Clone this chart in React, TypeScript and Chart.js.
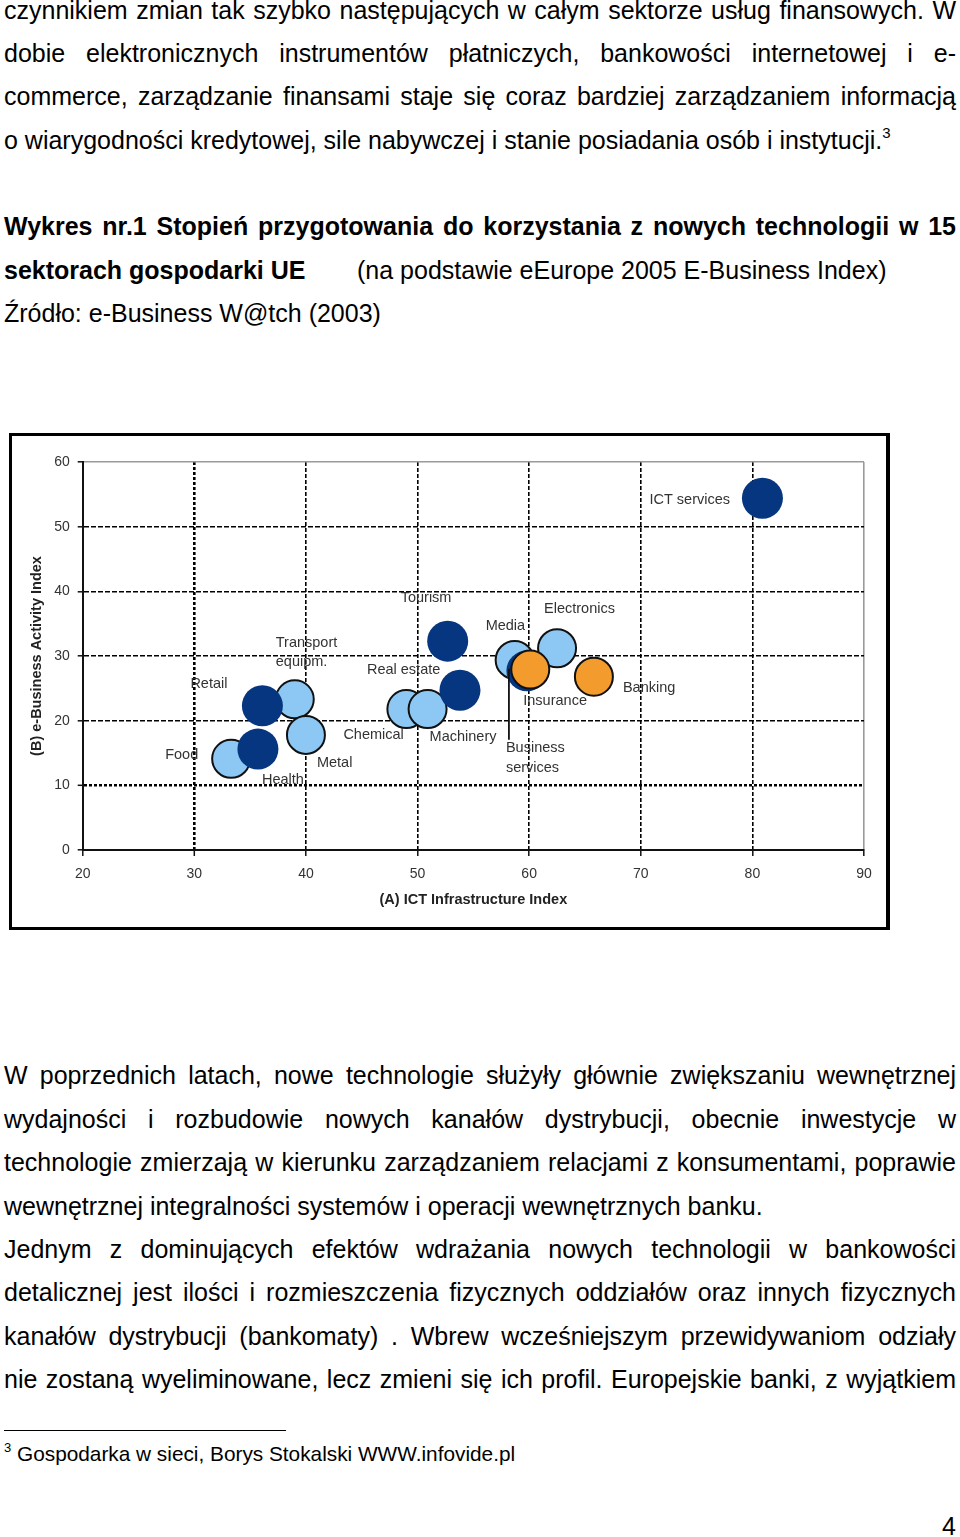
import React, { useEffect, useRef } from "react";
import { Chart, registerables } from "chart.js";

Chart.register(...registerables);

const FONT = "'Liberation Sans', Arial, Helvetica, sans-serif";

// ---------- chart data ----------
const lightSectors = ["Food", "Transport equipm.", "Metal", "Chemical", "Machinery", "Media", "Electronics"];
const lightIct = [33.3, 39.0, 40.0, 49.0, 50.9, 58.7, 62.5];
const lightEbiz = [14.1, 23.3, 17.8, 21.8, 21.8, 29.4, 31.2];

const darkSectors = ["Retail", "Health", "Tourism", "Real estate", "Business services", "ICT services"];
const darkIct = [36.1, 35.7, 52.7, 53.8, 59.8, 80.9];
const darkEbiz = [22.3, 15.6, 32.3, 24.7, 27.7, 54.4];

const orangeSectors = ["Insurance", "Banking"];
const orangeIct = [60.1, 65.8];
const orangeEbiz = [27.9, 26.8];

const xTitle = "(A) ICT Infrastructure Index";
const yTitle = "(B) e-Business Activity Index";
const xMin = 20, xMax = 90, yMin = 0, yMax = 60, tickStep = 10;

// ---------- label layout (pixel offsets from bubble centre) ----------
const labelLayout: Record<string, { lines: string[]; dx: number; dy: number; gap?: number; leader?: [number, number, number] }> = {
  "Food": { lines: ["Food"], dx: -66, dy: -4 },
  "Transport equipm.": { lines: ["Transport", "equipm."], dx: -19, dy: -56, gap: 19 },
  "Metal": { lines: ["Metal"], dx: 11, dy: 28 },
  "Chemical": { lines: ["Chemical"], dx: -63, dy: 26 },
  "Machinery": { lines: ["Machinery"], dx: 2, dy: 28 },
  "Media": { lines: ["Media"], dx: -29, dy: -34 },
  "Electronics": { lines: ["Electronics"], dx: -13, dy: -39 },
  "Retail": { lines: ["Retail"], dx: -72, dy: -22 },
  "Health": { lines: ["Health"], dx: 4, dy: 31 },
  "Tourism": { lines: ["Tourism"], dx: -47, dy: -43 },
  "Real estate": { lines: ["Real estate"], dx: -93, dy: -20 },
  "Business services": { lines: ["Business", "services"], dx: -21, dy: 77, gap: 20, leader: [-18, -2, 69] },
  "ICT services": { lines: ["ICT services"], dx: -113, dy: 2 },
  "Insurance": { lines: ["Insurance"], dx: -7, dy: 31 },
  "Banking": { lines: ["Banking"], dx: 29, dy: 11 },
};

// ---------- page text ----------
const topLines = [
  "czynnikiem zmian tak szybko następujących w całym sektorze usług finansowych. W",
  "dobie elektronicznych instrumentów płatniczych, bankowości internetowej i e-",
  "commerce, zarządzanie finansami staje się coraz bardziej zarządzaniem informacją",
];
const topLast = "o wiarygodności kredytowej, sile nabywczej i stanie posiadania osób i instytucji.";
const headLine1 = "Wykres nr.1 Stopień przygotowania do korzystania z nowych technologii w 15";
const headLine2Bold = "sektorach gospodarki UE";
const headLine2Rest = "(na podstawie eEurope 2005 E-Business Index)";
const sourceLine = "Źródło: e-Business W@tch (2003)";
const bottomLines: [string, boolean][] = [
  ["W poprzednich latach, nowe technologie służyły głównie zwiększaniu wewnętrznej", true],
  ["wydajności i rozbudowie nowych kanałów dystrybucji, obecnie inwestycje w", true],
  ["technologie zmierzają w kierunku zarządzaniem relacjami z konsumentami, poprawie", true],
  ["wewnętrznej integralności systemów i operacji wewnętrznych banku.", false],
  ["Jednym z dominujących efektów wdrażania nowych technologii w bankowości", true],
  ["detalicznej jest ilości i rozmieszczenia fizycznych oddziałów oraz innych fizycznych", true],
  ["kanałów dystrybucji (bankomaty) . Wbrew wcześniejszym przewidywaniom odziały", true],
  ["nie zostaną wyeliminowane, lecz zmieni się ich profil. Europejskie banki, z wyjątkiem", true],
];
const footnoteText = "Gospodarka w sieci, Borys Stokalski WWW.infovide.pl";

function Txt(props: { x: number; baseline: number; size: number; bold?: boolean; width?: number; justify?: boolean; children: any }) {
  const { x, baseline, size, bold, width, justify, children } = props;
  const lh = size * 1.2;
  const top = baseline - (lh - size * 1.117) / 2 - size * 0.905;
  return (
    <div
      style={{
        position: "absolute",
        left: x,
        top,
        width: width,
        height: lh,
        lineHeight: lh + "px",
        fontSize: size,
        fontFamily: FONT,
        fontWeight: bold ? "bold" : "normal",
        whiteSpace: "nowrap",
        textAlign: justify ? "justify" : "left",
        textAlignLast: justify ? "justify" : "left",
        color: "#000",
      } as any}
    >
      {children}
    </div>
  );
}

const labelPlugin = {
  id: "sectorLabels",
  afterDatasetsDraw(chart: any) {
    const ctx = chart.ctx;
    ctx.save();
    ctx.font = `14.5px ${FONT}`;
    ctx.fillStyle = "#333";
    ctx.textBaseline = "middle";
    ctx.textAlign = "left";
    chart.data.datasets.forEach((ds: any, di: number) => {
      const meta = chart.getDatasetMeta(di);
      ds.sectors.forEach((name: string, i: number) => {
        const el = meta.data[i];
        const lay = labelLayout[name];
        if (!el || !lay) return;
        lay.lines.forEach((t, k) => {
          ctx.fillText(t, el.x + lay.dx, el.y + lay.dy + k * (lay.gap || 0));
        });
        if (lay.leader) {
          const [lx, y1, y2] = lay.leader;
          ctx.save();
          ctx.strokeStyle = "#111";
          ctx.lineWidth = 1.8;
          ctx.beginPath();
          ctx.moveTo(el.x + lx, el.y + y1);
          ctx.lineTo(el.x + lx, el.y + y2);
          ctx.stroke();
          ctx.restore();
        }
      });
    });
    ctx.restore();
  },
};

function BubbleChart() {
  const ref = useRef<HTMLCanvasElement>(null);
  useEffect(() => {
    if (!ref.current) return;
    const mk = (xs: number[], ys: number[], r: number) => xs.map((x, i) => ({ x, y: ys[i], r }));
    const chart = new Chart(ref.current, {
      type: "bubble",
      data: {
        datasets: [
          {
            label: "orange",
            sectors: orangeSectors,
            data: mk(orangeIct, orangeEbiz, 19),
            backgroundColor: "#F39C2D",
            borderColor: "#111",
            borderWidth: 2,
          } as any,
          {
            label: "dark",
            sectors: darkSectors,
            data: mk(darkIct, darkEbiz, 20.5),
            backgroundColor: "#06367F",
            borderColor: "#06367F",
            borderWidth: 0,
          } as any,
          {
            label: "light",
            sectors: lightSectors,
            data: mk(lightIct, lightEbiz, 19),
            backgroundColor: "#8CC8F3",
            borderColor: "#111",
            borderWidth: 2,
          } as any,
        ],
      },
      options: {
        responsive: false,
        animation: false,
        devicePixelRatio: 1,
        events: [],
        layout: { padding: { top: 26, right: 22, left: 0, bottom: 0 } },
        plugins: { legend: { display: false }, tooltip: { enabled: false } },
        scales: {
          x: {
            type: "linear",
            min: xMin,
            max: xMax,
            afterFit: (s: any) => { s.height = 76; },
            ticks: { stepSize: tickStep, color: "#333", font: { size: 14, family: FONT }, padding: 10 },
            grid: {
              color: (c: any) => (c.tick && c.tick.value === xMax ? "#9a9a9a" : "#000"),
              lineWidth: (c: any) => (c.tick && c.tick.value === 30 ? 2.6 : 1.6),
              tickColor: "#111",
              tickWidth: 1.5,
              tickLength: 6,
            },
            border: {
              color: "#111",
              width: 2,
              dash: (c: any) => {
                if (!c.tick) return [];
                const v = c.tick.value;
                if (v === xMin || v === xMax) return [];
                return v === 30 ? [3, 2] : [4, 2];
              },
            },
            title: { display: true, text: xTitle, color: "#222", font: { size: 14.5, weight: "bold", family: FONT }, padding: { top: 0, bottom: 17 } },
          },
          y: {
            type: "linear",
            min: yMin,
            max: yMax,
            afterFit: (s: any) => { s.width = 70.7; },
            ticks: { stepSize: tickStep, color: "#333", font: { size: 14, family: FONT }, padding: 8 },
            grid: {
              color: (c: any) => (c.tick && c.tick.value === yMax ? "#9a9a9a" : "#000"),
              lineWidth: (c: any) => (c.tick && c.tick.value === 10 ? 2.6 : 1.6),
              tickColor: "#111",
              tickWidth: 1.5,
              tickLength: 5,
            },
            border: {
              color: "#111",
              width: 2,
              dash: (c: any) => {
                if (!c.tick) return [];
                const v = c.tick.value;
                if (v === yMin || v === yMax) return [];
                return v === 10 ? [3, 2] : [5, 2];
              },
            },
            title: { display: true, text: yTitle, color: "#222", font: { size: 14.5, weight: "bold", family: FONT }, padding: { top: 16, bottom: 0 } },
          },
        },
      } as any,
      plugins: [labelPlugin],
    });
    return () => chart.destroy();
  }, []);
  return (
    <canvas
      ref={ref}
      width={874}
      height={490}
      style={{ position: "absolute", left: 12, top: 436, width: 874, height: 490, display: "block" }}
    />
  );
}

export default function App() {
  const step = 43.3;
  const top0 = 18.5;
  const bot0 = 1084;
  const bstep = 43.43;
  return (
    <div style={{ position: "relative", width: 960, height: 1537, overflow: "hidden", background: "#fff" }}>
      <style>{"body{margin:0;background:#fff}"}</style>
      {topLines.map((t, i) => (
        <Txt key={"t" + i} x={4} width={952} baseline={top0 + i * step} size={25} justify>
          {t}
        </Txt>
      ))}
      <Txt x={4} baseline={top0 + 3 * step} size={25}>
        {topLast}
        <span style={{ fontSize: 15, position: "relative", top: -11 }}>3</span>
      </Txt>
      <Txt x={4} width={952} baseline={top0 + 5 * step} size={25} bold justify>
        {headLine1}
      </Txt>
      <Txt x={4} baseline={top0 + 6 * step} size={25} bold>
        {headLine2Bold}
      </Txt>
      <Txt x={357} baseline={top0 + 6 * step} size={25}>
        {headLine2Rest}
      </Txt>
      <Txt x={4} baseline={top0 + 7 * step} size={25}>
        {sourceLine}
      </Txt>

      <div
        style={{
          position: "absolute",
          left: 9,
          top: 433,
          width: 881,
          height: 497,
          boxSizing: "border-box",
          borderTop: "3px solid #000",
          borderLeft: "3px solid #000",
          borderBottom: "3px solid #000",
          borderRight: "4px solid #000",
        }}
      />
      <BubbleChart />

      {bottomLines.map(([t, j], i) => (
        <Txt key={"b" + i} x={4} width={952} baseline={bot0 + i * bstep} size={25} justify={j}>
          {t}
        </Txt>
      ))}

      <div style={{ position: "absolute", left: 4, top: 1429.5, width: 282, height: 1, background: "#000" }} />
      <Txt x={4} baseline={1452} size={13}>3</Txt>
      <Txt x={17} baseline={1461.7} size={20.8}>{footnoteText}</Txt>
      <Txt x={942} baseline={1535} size={25}>4</Txt>
    </div>
  );
}
